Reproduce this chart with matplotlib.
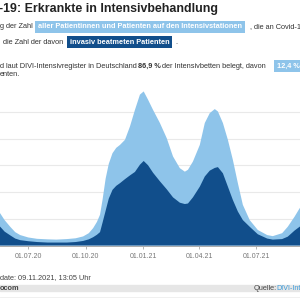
import datetime as dt

import matplotlib

matplotlib.use("Agg")
import matplotlib.dates as mdates
import matplotlib.pyplot as plt

plt.rcParams["font.family"] = ["Liberation Sans", "DejaVu Sans"]

# %% data (patients in intensive care, Germany)
dates = [
    "2020-05-10", "2020-05-17", "2020-05-24", "2020-06-02", "2020-06-10", "2020-06-18",
    "2020-07-01", "2020-07-15", "2020-08-01", "2020-08-15", "2020-09-01", "2020-09-15",
    "2020-09-27", "2020-10-06", "2020-10-13", "2020-10-19", "2020-10-24", "2020-10-28",
    "2020-11-02", "2020-11-07", "2020-11-13", "2020-11-19", "2020-11-25", "2020-12-03",
    "2020-12-11", "2020-12-19", "2020-12-27", "2021-01-02", "2021-01-09", "2021-01-17",
    "2021-01-28", "2021-02-08", "2021-02-18", "2021-03-01", "2021-03-09", "2021-03-14",
    "2021-03-22", "2021-04-02", "2021-04-10", "2021-04-18", "2021-04-26", "2021-05-01",
    "2021-05-09", "2021-05-17", "2021-05-25", "2021-06-02", "2021-06-10", "2021-06-21",
    "2021-07-04", "2021-07-19", "2021-07-28", "2021-08-12", "2021-08-21", "2021-09-01",
    "2021-09-09", "2021-09-20",
]
icu_total = [
    1350, 1200, 950, 700, 500, 390,
    300, 250, 230, 220, 240, 270,
    340, 460, 650, 880, 1150, 1700,
    2500, 3050, 3450, 3650, 3760, 3950,
    4450, 5070, 5640, 5760, 5450, 5070,
    4580, 4010, 3330, 2890, 2760, 2830,
    3140, 3760, 4580, 4950, 5100, 5010,
    4580, 3950, 3200, 2330, 1520, 950,
    580, 390, 350, 460, 700, 1080,
    1390, 1600,
]
icu_invasive = [
    800, 700, 520, 380, 260, 200,
    160, 130, 110, 110, 110, 130,
    170, 230, 310, 400, 500, 850,
    1300, 1750, 2080, 2230, 2330, 2480,
    2620, 2750, 3020, 3160, 3000, 2720,
    2400, 2100, 1800, 1600, 1550, 1570,
    1800, 2200, 2580, 2800, 2900, 2930,
    2700, 2200, 1700, 1270, 950, 700,
    420, 260, 220, 240, 330, 560,
    700, 850,
]
tick_dates = ["2020-07-01", "2020-10-01", "2021-01-01", "2021-04-01", "2021-07-01"]
tick_labels = ["01.07.20", "01.10.20", "01.01.21", "01.04.21", "01.07.21"]

light = "#8ec4ea"
dark = "#114e8b"
grey_text = "#333333"

x = [dt.datetime.strptime(d, "%Y-%m-%d") for d in dates]

fig = plt.figure(figsize=(3, 3), dpi=100)


def fy(y_px):
    return 1 - y_px / 300


def ft(x_px, y_px, s, **kw):
    kw.setdefault("fontsize", 5.3)
    kw.setdefault("color", grey_text)
    fig.text(x_px / 300, fy(y_px), s, va="center", ha="left", **kw)


# %% chart area (cropped: y labels sit left of the visible window)
ax = fig.add_axes([0, 54.5 / 300, 1, 160.5 / 300])
ax.fill_between(x, icu_total, color=light, linewidth=0)
ax.fill_between(x, icu_invasive, color=dark, linewidth=0)

px_per_day = 0.6237
x0 = mdates.date2num(dt.datetime(2020, 7, 1)) - 28.3 / px_per_day
ax.set_xlim(x0, x0 + 300 / px_per_day)
ax.set_ylim(0, 6000)
ax.set_yticks([1000, 2000, 3000, 4000, 5000])
ax.tick_params(axis="y", left=False, labelleft=False)
ax.grid(axis="y", color="#e9e9e9", linewidth=0.8)
ax.set_axisbelow(True)

ax.set_xticks([mdates.date2num(dt.datetime.strptime(d, "%Y-%m-%d")) for d in tick_dates])
ax.set_xticklabels(tick_labels)
ax.tick_params(axis="x", length=2.2, width=0.6, color="#aaaaaa", labelsize=5,
               labelcolor="#777777", pad=3)
for side in ["top", "left", "right"]:
    ax.spines[side].set_visible(False)
ax.spines["bottom"].set_color("#aaaaaa")
ax.spines["bottom"].set_linewidth(0.7)

# %% header
ft(-1, 9, "-19: Erkrankte in Intensivbehandlung", fontsize=8.9, fontweight="bold", color="#222222")

ft(0, 27, "g der Zahl")
ft(38, 27, "aller Patientinnen und Patienten auf den Intensivstationen", color="white",
   fontweight="bold", bbox=dict(boxstyle="square,pad=0.35", fc=light, ec="none"))
ft(250, 27, ", die an Covid-1")

ft(3, 42, "die Zahl der davon")
ft(70, 42, "invasiv beatmeten Patienten", color="white", fontweight="bold",
   bbox=dict(boxstyle="square,pad=0.35", fc=dark, ec="none"))
ft(175, 42, ".")

ft(0, 66, "d laut DIVI-Intensivregister in Deutschland")
ft(138, 66, "86,9 %", fontweight="bold")
ft(162, 66, "der Intensivbetten belegt, davon")
ft(277, 66, "12,4 %", color="white", fontweight="bold",
   bbox=dict(boxstyle="square,pad=0.35", fc=light, ec="none"))
ft(0, 75, "enten.")

# %% footer
ft(0, 277.5, "date: 09.11.2021, 13:05 Uhr", color="#444444")
fig.patches.append(plt.Rectangle((0, fy(291)), 1, 6 / 300, transform=fig.transFigure,
                                 color="#e6e6e6", zorder=0))
ft(0, 288, "ocom", fontweight="bold", color="#444444")
ft(254, 288, "Quelle:", color="#444444")
ft(276.5, 288, "DIVI-Int", color="#3a9ad9", fontsize=5.1)
fig.add_artist(plt.Line2D([0, 1], [fy(297), fy(297)], color="#eeeeee", linewidth=0.6))

fig.savefig("out.png", dpi=100)
